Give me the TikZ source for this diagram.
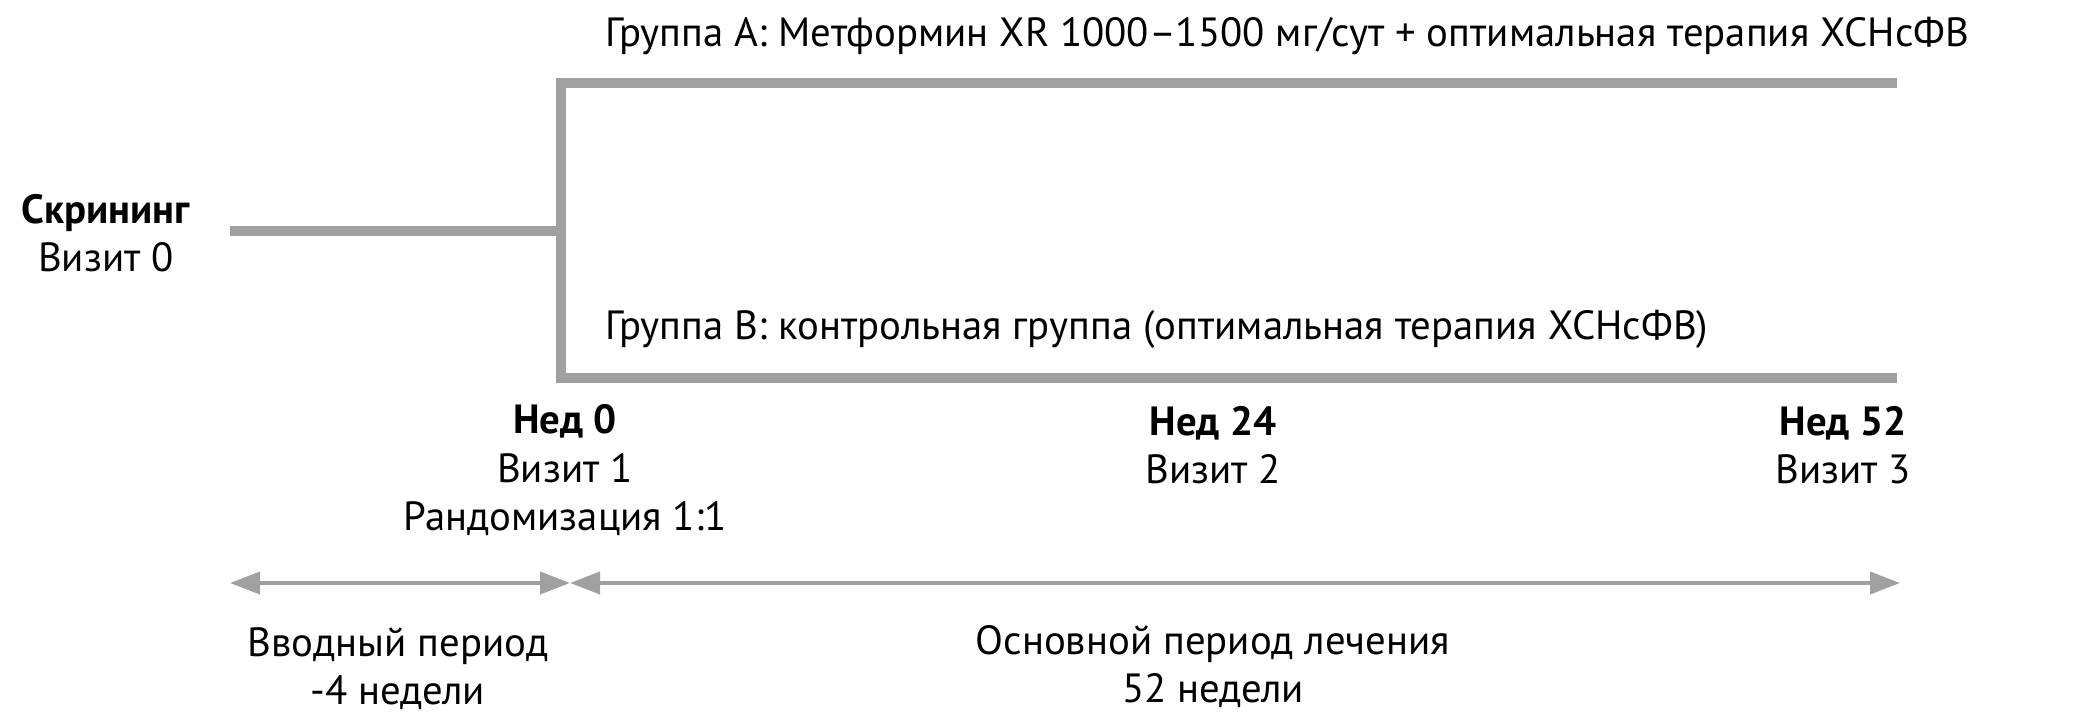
\documentclass[tikz,border=0pt]{standalone}
\usepackage{fontspec}
\setmainfont{PT Sans}
\usetikzlibrary{arrows.meta}
\definecolor{armgray}{RGB}{160,160,160}

\begin{document}
\begin{tikzpicture}[
    txt/.style={anchor=base,align=center,inner sep=0pt,font=\fontsize{11.6}{13.9}\selectfont},
    arm/.style={armgray,line width=3pt,line join=miter},
    span/.style={armgray,line width=1.1pt,
      {Triangle[length=3mm,width=2.2mm]}-{Triangle[length=3mm,width=2.2mm]}}]
  \useasboundingbox (0,0) rectangle (20.75,-7.23);

  % study arms
  \coordinate (scr)   at (2.30,-2.31);
  \coordinate (split) at (5.61,-2.31);
  \coordinate (armA)  at (5.61,-0.83);
  \coordinate (armB)  at (5.61,-3.78);
  \coordinate (endA)  at (18.97,-0.83);
  \coordinate (endB)  at (18.97,-3.78);
  \draw[arm] (scr) -- (split);
  \draw[arm] (endA) -- (armA) -- (armB) -- (endB);

  \node[txt,anchor=base west] (grpA) at (6.05,-0.47)
    {Группа А: Метформин XR 1000–1500 мг/сут + оптимальная терапия ХСНсФВ};
  \node[txt,anchor=base west] (grpB) at (6.05,-3.40)
    {Группа В: контрольная группа (оптимальная терапия ХСНсФВ)};
  \node[txt] (screen) at (1.06,-2.72) {\textbf{Скрининг}\\Визит 0}; % base = last line

  % visits
  \node[txt] (wk0)  at (5.65,-5.31)  {\textbf{Нед 0}\\Визит 1\\Рандомизация 1:1};
  \node[txt] (wk24) at (12.13,-4.84) {\textbf{Нед 24}\\Визит 2};
  \node[txt] (wk52) at (18.43,-4.84) {\textbf{Нед 52}\\Визит 3};

  % periods
  \coordinate (runin) at (2.30,-5.83);
  \coordinate (rand)  at (5.70,-5.83);
  \coordinate (fin)   at (19.00,-5.83);
  \draw[span] (runin) -- (rand);
  \draw[span] (rand) -- (fin);
  \node[txt] (lead)  at (3.98,-7.05)  {Вводный период\\-4 недели};
  \node[txt] (treat) at (12.13,-7.03) {Основной период лечения\\52 недели};
\end{tikzpicture}
\end{document}
